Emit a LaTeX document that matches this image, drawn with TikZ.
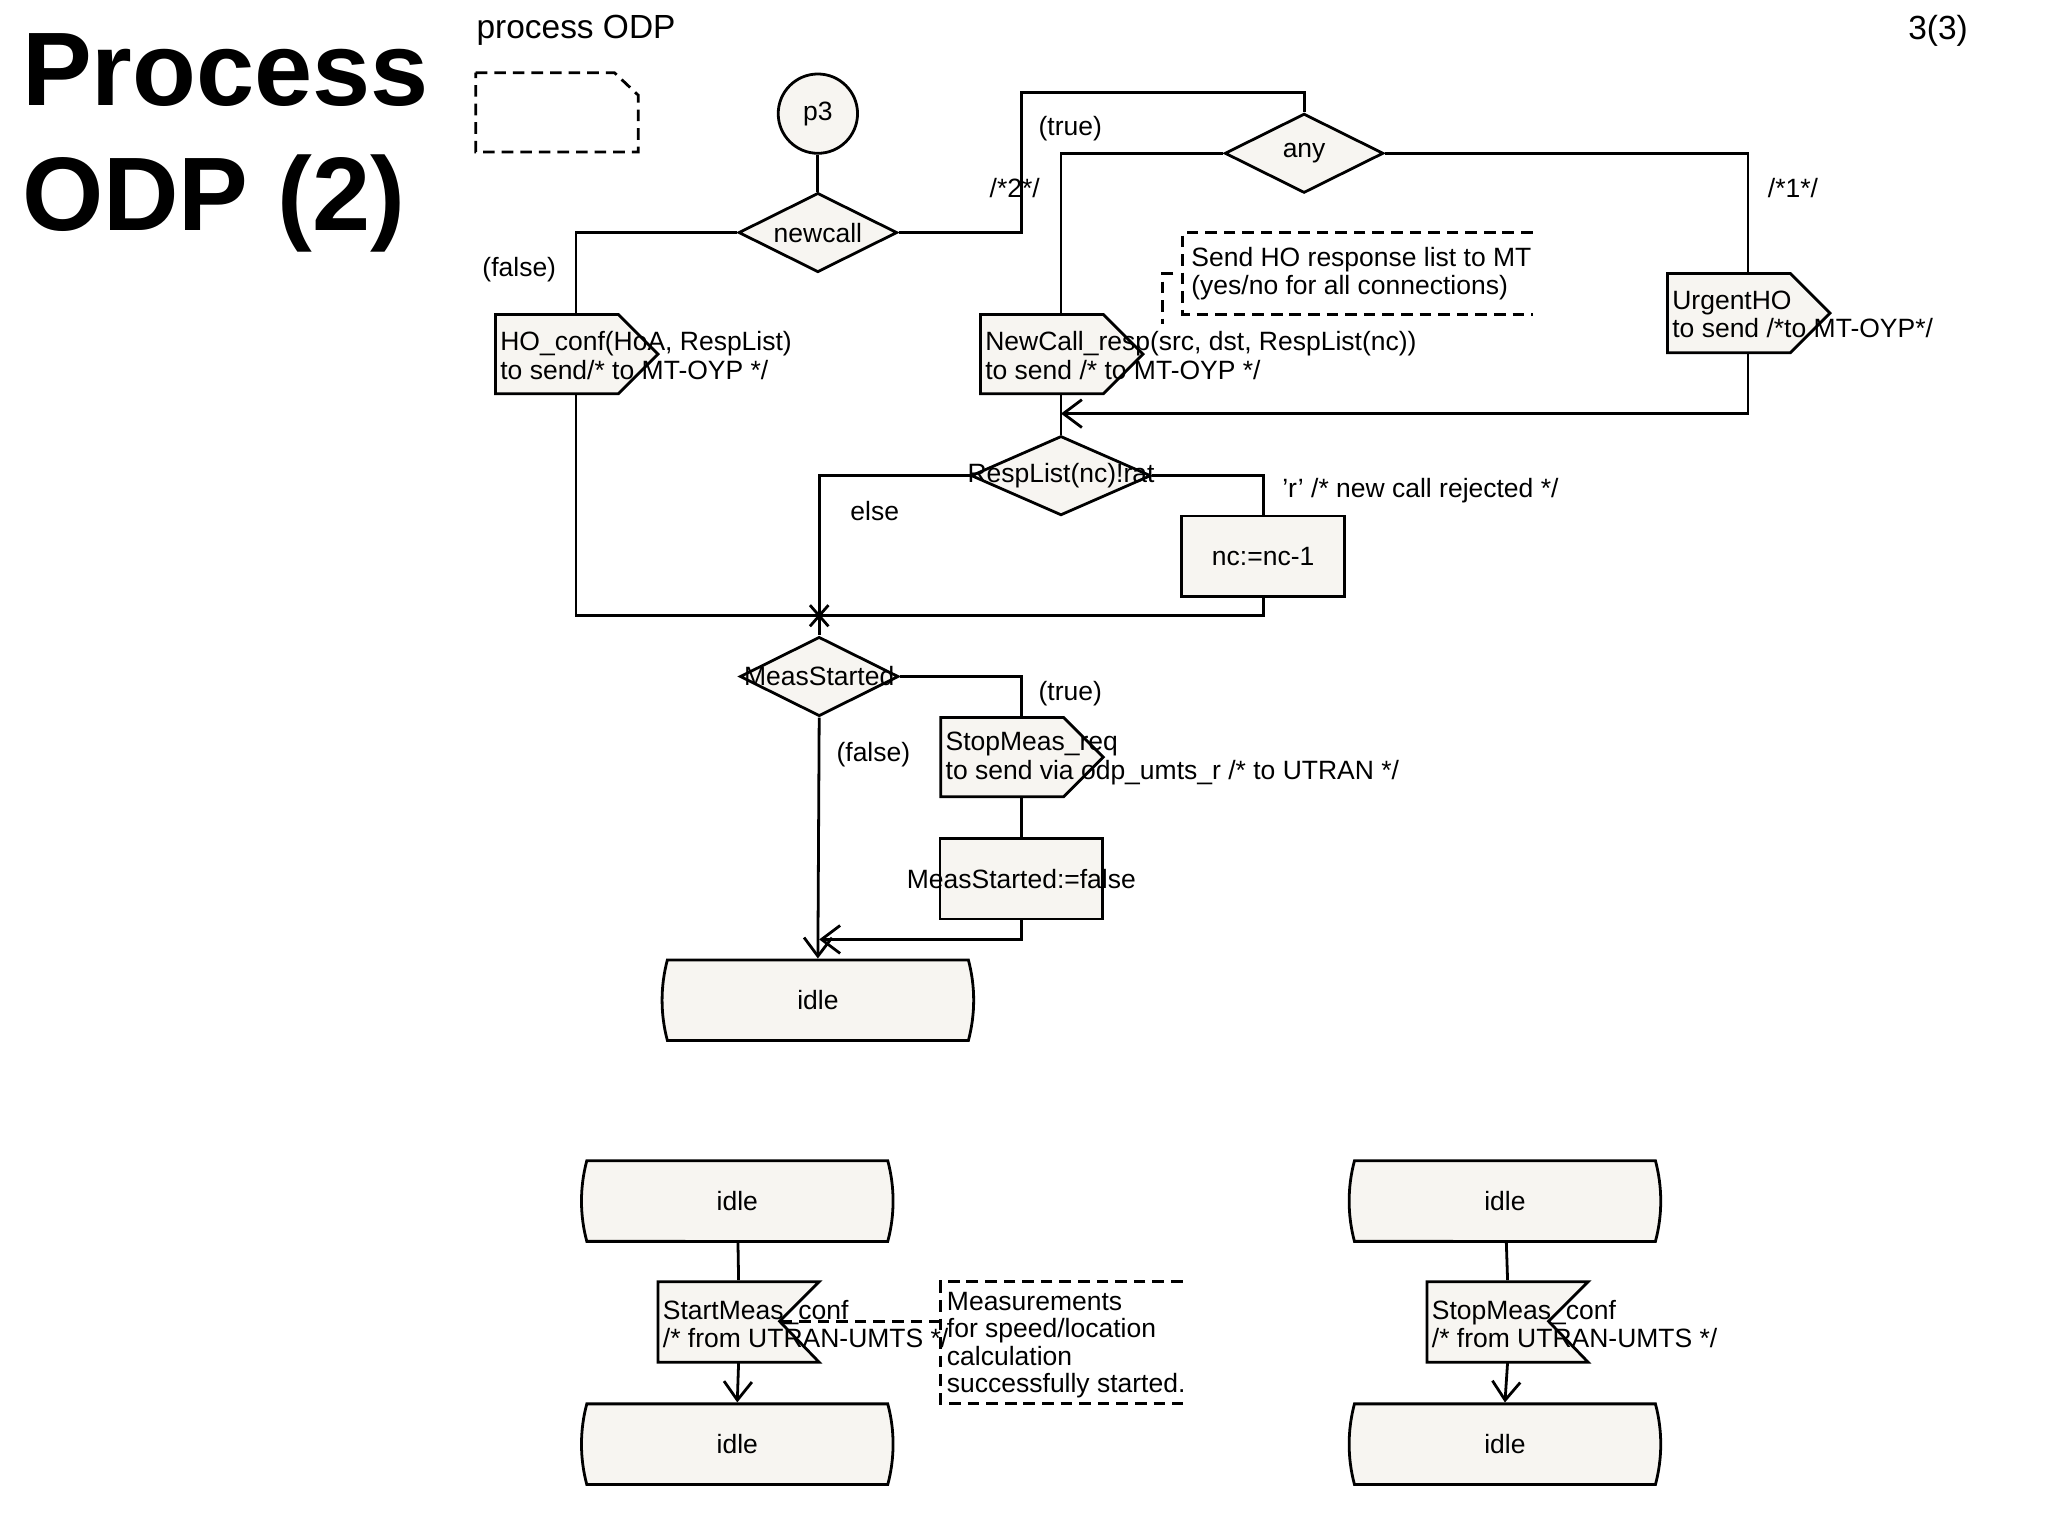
\documentclass[tikz,border=0pt]{standalone}
\usepackage{fontspec}
\setmainfont{Liberation Sans}
\usetikzlibrary{shapes.geometric,shapes.misc,arrows.meta}
\definecolor{paper}{RGB}{247,245,241}

% output symbol: name, left x, top y, text
\newcommand{\outsig}[4]{%
  \draw[sym] (#2,#3) -- ++(93,0) -- ++(30,30) -- ++(-30,30) -- ++(-93,0) -- cycle;
  \path (#2,#3) ++(61,30) node[port] (#1) {};
  \path (#2,#3) ++(3,31) node[txt, anchor=west, align=left] (#1-t) {#4};
}
% input symbol: name, left x, top y, text
\newcommand{\insig}[4]{%
  \draw[sym] (#2,#3) -- ++(122,0) -- ++(-30,30) -- ++(30,31) -- ++(-122,0) -- cycle;
  \path (#2,#3) ++(61,30) node[port] (#1) {};
  \path (#2,#3) ++(3,32) node[txt, anchor=west, align=left] (#1-t) {#4};
}

\tikzset{
  sym/.style={draw, fill=paper, line width=0.6pt},
  port/.style={inner sep=0, minimum width=1.23cm, minimum height=0.61cm},
  txt/.style={inner sep=0, font=\fontsize{5.7}{6.1}\selectfont},
  decision/.style={diamond, draw, fill=paper, line width=0.6pt, inner sep=0,
    minimum width=1.2cm, minimum height=0.6cm},
  state/.style={rounded rectangle, rounded rectangle arc length=30, draw, fill=paper,
    line width=0.6pt, minimum width=1.19cm, minimum height=0.61cm, font=\fontsize{5.7}{6.1}\selectfont},
  task/.style={rectangle, draw, fill=paper, line width=0.6pt, minimum width=1.23cm,
    minimum height=0.61cm, inner sep=0},
  flow/.style={line width=0.6pt},
  arr/.style={flow, -{Straight Barb[length=4pt, width=6pt]}},
  note/.style={dash pattern=on 2.5pt off 1.5pt, line width=0.6pt},
}

\begin{document}
\begin{tikzpicture}[x=0.01cm, y=-0.01cm]
\useasboundingbox (0,0) rectangle (1550,1162.5);

% header
\node[anchor=west, align=left, inner sep=0, font=\fontsize{22.5}{27}\bfseries] (title) at (16,108) {Process\\ODP (2)};
\node[anchor=west, inner sep=0, font=\fontsize{7.2}{8}\selectfont] (head) at (360,23) {process ODP};
\node[anchor=east, inner sep=0, font=\fontsize{7.2}{8}\selectfont] (page) at (1490,23) {3(3)};
\draw[note] (360,55) -- (465,55) -- (483,72) -- (483,115) -- (360,115) -- cycle;

% top part
\node[circle, draw, fill=paper, line width=0.6pt, minimum size=0.6cm, inner sep=0, font=\fontsize{5.7}{6.1}\selectfont] (p3) at (619,86) {p3};
\node[decision] (newcall) at (619,176) {};
\node[txt] (newcall-t) at (619,176) {newcall};
\node[decision] (any) at (987,116) {};
\node[txt] (any-t) at (987,116) {any};

\outsig{hoconf}{375}{238}{HO\_conf(HoA, RespList)\\to send/* to MT-OYP */}
\outsig{ncresp}{742}{238}{NewCall\_resp(src, dst, RespList(nc))\\to send /* to MT-OYP */}
\outsig{urgent}{1262}{207}{UrgentHO\\to send /*to MT-OYP*/}

\draw[note] (1160,176) -- (895,176) -- (895,238) -- (1160,238);
\draw[note] (888,207) -- (880,207) -- (880,245);
\node[txt, anchor=west, align=left] (hocom) at (901,207) {Send HO response list to MT\\(yes/no for all connections)};

\node[decision, minimum width=1.36cm] (resp) at (803,360) {};
\node[txt] (resp-t) at (803,360) {RespList(nc)!rat};
\node[task] (dec) at (956,421) {};
\node[txt] (dec-t) at (956,421) {nc:=nc-1};
\coordinate (j1) at (803,313);
\coordinate (j2) at (620,466);

\draw[flow] (p3) -- (newcall);
\draw[flow] (newcall.east) -| (773,70) -| (any.north);
\draw[flow] (newcall.west) -| (hoconf.north);
\draw[flow] (any.west) -| (ncresp.north);
\draw[flow] (any.east) -| (urgent.north);
\draw[arr] (urgent.south) |- (j1);
\draw[flow] (ncresp.south) -- (resp.north);
\draw[flow] (resp.west) -| (j2);
\draw[flow] (resp.east) -| (dec.north);
\draw[flow] (hoconf.south) |- (j2);
\draw[flow] (dec.south) |- (j2);
\draw[flow] (j2) ++(-7,-8) -- ++(14,16) (j2) ++(7,-8) -- ++(-14,16);

\node[txt] (l1) at (810,97) {(true)};
\node[txt] (l2) at (768,142) {/*2*/};
\node[txt] (l3) at (1357,142) {/*1*/};
\node[txt] (l4) at (393,204) {(false)};
\node[txt] (l5) at (662,387) {else};
\node[txt] (l6) at (1075,371) {{\char39}r{\char39} /* new call rejected */};

% measurement part
\node[decision] (meas) at (620,512) {};
\node[txt] (meas-t) at (620,512) {MeasStarted};
\outsig{stopreq}{712}{543}{StopMeas\_req\\to send via odp\_umts\_r /* to UTRAN */}
\node[task] (reset) at (773,665) {};
\node[txt] (reset-t) at (773,665) {MeasStarted:=false};
\node[state] (idle1) at (619,757) {idle};
\coordinate (j3) at (620,711);

\draw[flow] (j2) -- (meas.north);
\draw[flow] (meas.east) -| (stopreq.north);
\draw[flow] (stopreq.south) -- (reset.north);
\draw[arr] (reset.south) |- (j3);
\draw[arr] (meas.south) -- (idle1.north);
\node[txt] (l7) at (810,525) {(true)};
\node[txt] (l8) at (661,571) {(false)};

% bottom part
\node[state] (idle2) at (558,909) {idle};
\insig{startconf}{498}{970}{StartMeas\_conf\\/* from UTRAN-UMTS */}
\node[state] (idle3) at (558,1093) {idle};
\draw[flow] (idle2) -- (startconf.north);
\draw[arr] (startconf.south) -- (idle3.north);
\draw[note] (895,970) -- (712,970) -- (712,1062) -- (895,1062);
\draw[note] (712,1000) -- (590,1000);
\node[txt, anchor=west, align=left, font=\fontsize{5.7}{5.9}\selectfont] (mcom) at (716,1018) {Measurements\\for speed/location\\calculation\\successfully started.};

\node[state] (idle4) at (1139,909) {idle};
\insig{stopconf}{1080}{970}{StopMeas\_conf\\/* from UTRAN-UMTS */}
\node[state] (idle5) at (1139,1093) {idle};
\draw[flow] (idle4) -- (stopconf.north);
\draw[arr] (stopconf.south) -- (idle5.north);
\end{tikzpicture}
\end{document}
